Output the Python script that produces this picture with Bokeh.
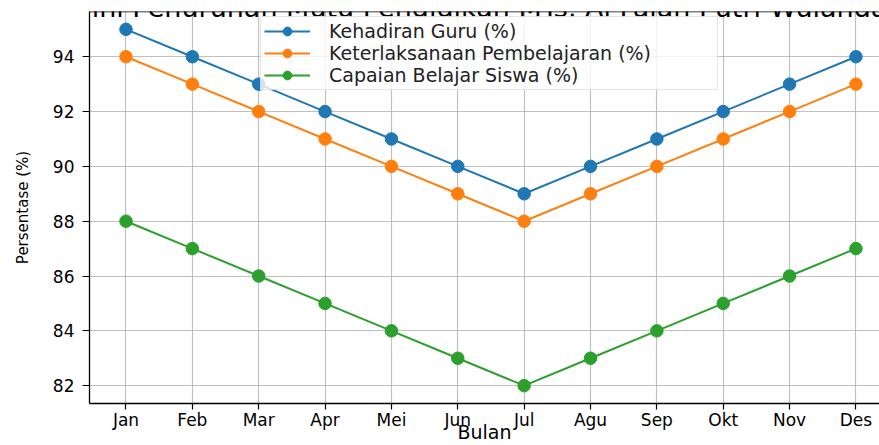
from bokeh.plotting import figure
from bokeh.models import Range1d, FixedTicker, Label, Span, Legend, LegendItem
from bokeh.embed import file_html
from bokeh.resources import INLINE

months = ["Jan", "Feb", "Mar", "Apr", "Mei", "Jun", "Jul", "Agu", "Sep", "Okt", "Nov", "Des"]
kehadiran_guru = [95, 94, 93, 92, 91, 90, 89, 90, 91, 92, 93, 94]
keterlaksanaan = [94, 93, 92, 91, 90, 89, 88, 89, 90, 91, 92, 93]
capaian_siswa = [88, 87, 86, 85, 84, 83, 82, 83, 84, 85, 86, 87]
series_names = ["Kehadiran Guru (%)", "Keterlaksanaan Pembelajaran (%)", "Capaian Belajar Siswa (%)"]
y_ticks = [82, 84, 86, 88, 90, 92, 94]
title_text = "Deteksi Dini Penurunan Mutu Pendidikan MTs. Al Falah Putri Wulandari"

FONT = "DejaVu Sans"
colors = ["#1f77b4", "#ff7f0e", "#2ca02c"]
x = list(range(len(months)))

p = figure(width=879, height=445, output_backend="svg", toolbar_location=None,
           x_range=Range1d(-0.55, 11.355), y_range=Range1d(81.35, 95.65),
           min_border_left=89, min_border_right=0, min_border_top=11, min_border_bottom=42)
p.outline_line_color = None
p.background_fill_color = "white"
p.border_fill_color = "white"

# axes
p.xaxis.ticker = FixedTicker(ticks=x)
p.xaxis.major_label_overrides = {i: m for i, m in enumerate(months)}
p.yaxis.ticker = FixedTicker(ticks=y_ticks)
for ax in (p.xaxis, p.yaxis):
    ax.axis_line_color = "black"
    ax.axis_line_width = 1.3
    ax.major_tick_line_color = "black"
    ax.major_tick_line_width = 1.2
    ax.major_tick_in = 0
    ax.minor_tick_line_color = None
    ax.major_label_text_font = FONT
    ax.major_label_text_font_size = "17px"
    ax.major_label_text_color = "black"
    ax.axis_label_text_font = FONT
    ax.axis_label_text_font_style = "normal"
    ax.axis_label_text_color = "black"
p.xaxis.major_tick_out = 6
p.yaxis.major_tick_out = 7
p.xaxis.major_label_standoff = 0
p.yaxis.major_label_standoff = 8
p.yaxis.axis_label = "Persentase (%)"
p.yaxis.axis_label_text_font_size = "15px"
p.yaxis.axis_label_standoff = 18
p.xaxis.axis_label = "Bulan"
p.xaxis.axis_label_text_font_size = "19px"
p.xaxis.axis_label_standoff = -12

p.xgrid.ticker = FixedTicker(ticks=x)
p.ygrid.ticker = FixedTicker(ticks=y_ticks)
for g in (p.xgrid, p.ygrid):
    g.grid_line_color = "#b0b0b0"
    g.grid_line_alpha = 0.8
    g.grid_line_width = 1.2

# top spine
p.add_layout(Span(location=95.65, dimension="width", line_color="black", line_width=1.3))

items = []
for vals, name, c in zip([kehadiran_guru, keterlaksanaan, capaian_siswa], series_names, colors):
    r1 = p.line(x, vals, line_color=c, line_width=2)
    r2 = p.scatter(x, vals, size=12.5, fill_color=c, line_color=c)
    items.append(LegendItem(label=name, renderers=[r1, r2]))

legend = Legend(items=items, location=(171, 313), margin=0, padding=3, spacing=0,
                label_text_font=FONT, label_text_font_size="19px", label_text_color="#222222",
                label_height=22, glyph_height=22, glyph_width=46, label_standoff=19,
                label_width=385,
                border_line_color="#cccccc", border_line_width=1.2,
                background_fill_color="white", background_fill_alpha=0.8)
p.add_layout(legend, "center")

p.add_layout(Label(x=-129, y=396, x_units="screen", y_units="screen", text=title_text,
                   text_align="left", text_baseline="alphabetic",
                   text_font=FONT, text_font_size="27px", text_color="black"))

open("out.html", "w").write(file_html(p, INLINE))
